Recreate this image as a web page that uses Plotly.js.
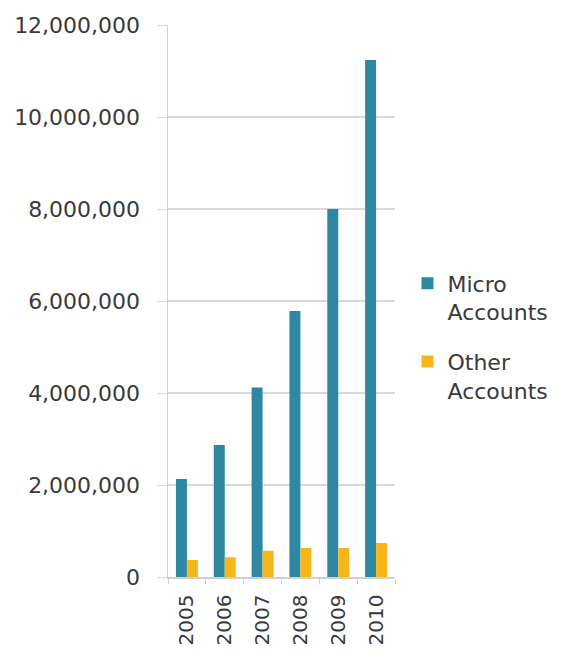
<!DOCTYPE html>
<html>
<head>
<meta charset="utf-8">
<script src="https://cdn.plot.ly/plotly-3.0.1.min.js"></script>
<style>html,body{margin:0;padding:0;background:#fff;}#chart{width:561px;height:663px;}</style>
</head>
<body>
<div id="chart"></div>
<script>
var years = ["2005", "2006", "2007", "2008", "2009", "2010"];
var microAccounts = [2130000, 2870000, 4120000, 5780000, 8000000, 11240000];
var otherAccounts = [370000, 430000, 570000, 630000, 630000, 740000];
var seriesNames = ["Micro<br>Accounts", "Other<br>Accounts"];
var yTicks = [0, 2000000, 4000000, 6000000, 8000000, 10000000, 12000000];
var yTickText = ["0", "2,000,000", "4,000,000", "6,000,000", "8,000,000", "10,000,000", "12,000,000"];

var fontFam = "'DejaVu Sans', sans-serif";
var data = [
  {type: "bar", x: years, y: microAccounts, name: seriesNames[0], legendgroup: "micro", marker: {color: "#2F88A3"}},
  {type: "bar", x: years, y: otherAccounts, name: seriesNames[1], legendgroup: "other", marker: {color: "#F4B619"}}
];
var layout = {
  width: 561, height: 663,
  margin: {l: 168, r: 166, t: 25, b: 86, autoexpand: false},
  paper_bgcolor: "#fff", plot_bgcolor: "#fff",
  barmode: "group", bargap: 0.42, bargroupgap: 0,
  font: {family: fontFam, color: "#3A3A3A", size: 21},
  showlegend: true,
  legend: {x: 1.055, xanchor: "left", y: 0.435, yanchor: "middle", valign: "top", font: {size: 22, color: "#3A3A3A"}, tracegroupgap: 18, itemwidth: 30, borderwidth: 0},
  xaxis: {
    type: "category", tickangle: -90, showgrid: false,
    showline: true, linecolor: "#D0D0D0", linewidth: 1.5,
    ticks: "outside", tickson: "boundaries", ticklen: 5, tickcolor: "#D0D0D0",
    tickfont: {size: 20, color: "#3A3A3A"}, ticklabelstandoff: 8
  },
  yaxis: {
    range: [0, 12000000], tickvals: yTicks, ticktext: yTickText,
    showgrid: true, gridcolor: "#D9D9D9", gridwidth: 1.5,
    showline: true, linecolor: "#D0D0D0", linewidth: 1.5,
    ticks: "outside", ticklen: 10, tickcolor: "#D9D9D9",
    zeroline: false, tickfont: {size: 22, color: "#3A3A3A"}, ticklabelstandoff: 12
  }
};
Plotly.newPlot("chart", data, layout, {staticPlot: true, displayModeBar: false});
</script>
</body>
</html>
